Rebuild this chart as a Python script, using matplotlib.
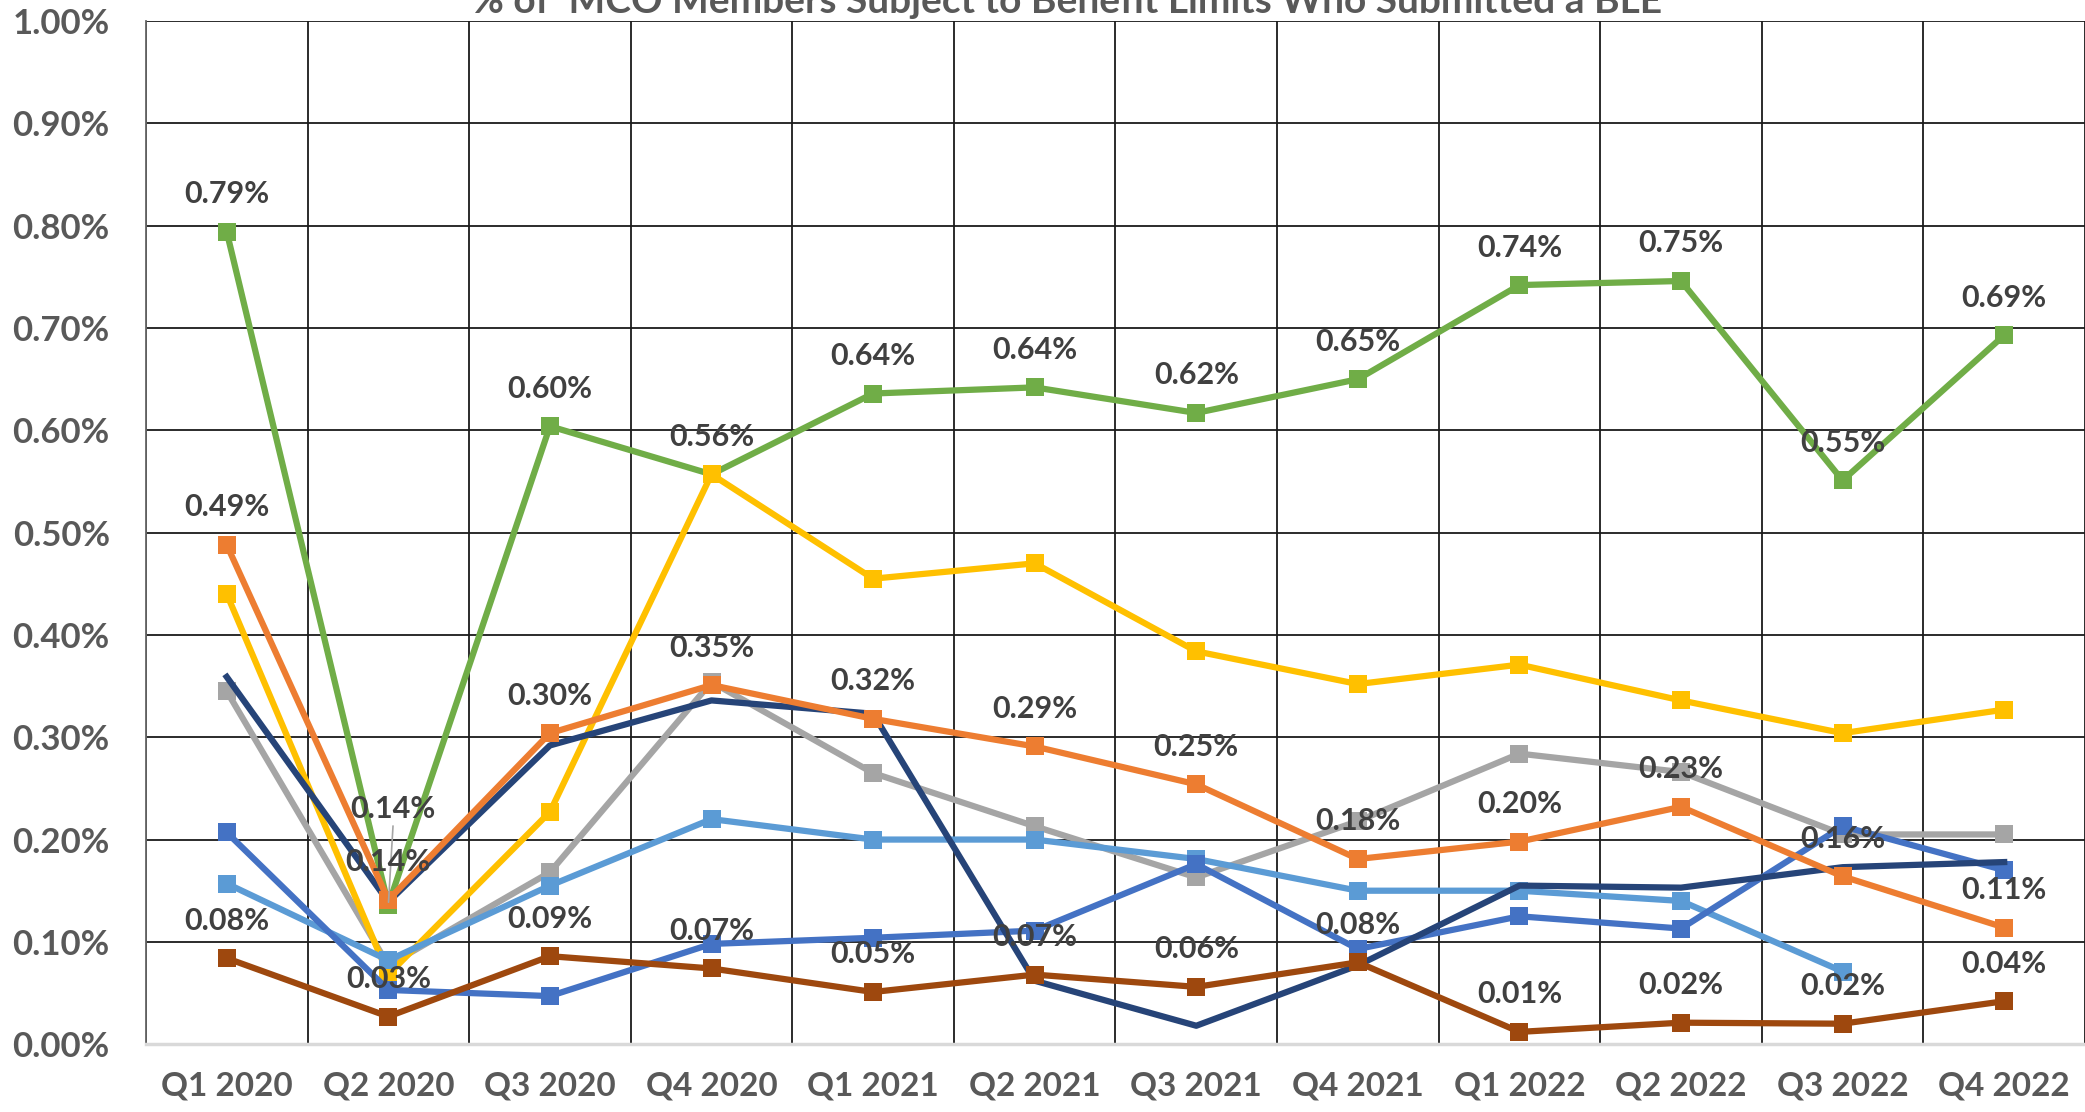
import numpy as np
import matplotlib.pyplot as plt
from matplotlib.ticker import FuncFormatter, MultipleLocator

plt.rcParams['font.family'] = ['Lato', 'DejaVu Sans']

quarters = ["Q1 2020", "Q2 2020", "Q3 2020", "Q4 2020", "Q1 2021", "Q2 2021",
            "Q3 2021", "Q4 2021", "Q1 2022", "Q2 2022", "Q3 2022", "Q4 2022"]

# values in percent
green = [0.794, 0.136, 0.604, 0.557, 0.636, 0.642, 0.617, 0.650, 0.742, 0.746, 0.551, 0.693]
yellow = [0.440, 0.068, 0.227, 0.557, 0.455, 0.470, 0.384, 0.352, 0.371, 0.336, 0.304, 0.327]
orange = [0.488, 0.141, 0.304, 0.351, 0.318, 0.291, 0.254, 0.181, 0.198, 0.232, 0.164, 0.114]
gray = [0.345, 0.077, 0.168, 0.354, 0.265, 0.213, 0.163, 0.218, 0.284, 0.266, 0.205, 0.205]
navy = [0.359, 0.139, 0.292, 0.336, 0.323, 0.062, 0.018, 0.077, 0.155, 0.153, 0.173, 0.178]
blue = [0.207, 0.053, 0.047, 0.098, 0.104, 0.111, 0.176, 0.093, 0.125, 0.113, 0.213, 0.170]
lightblue = [0.157, 0.082, 0.155, 0.220, 0.200, 0.200, 0.181, 0.150, 0.150, 0.140, 0.071, np.nan]
brown = [0.084, 0.027, 0.086, 0.074, 0.051, 0.068, 0.056, 0.080, 0.012, 0.021, 0.020, 0.042]

fig = plt.figure(figsize=(20.85, 11.12), dpi=100)
ax = fig.add_axes([0.070, 0.061, 0.930, 0.920])

x = np.arange(len(quarters))
lw = 4.5
ms = 13

series = [
    (green, '#70AD47', 's', 2),
    (gray, '#A5A5A5', 's', 3),
    (yellow, '#FFC000', 's', 4),
    (lightblue, '#5B9BD5', 's', 5),
    (blue, '#4472C4', 's', 6),
    (navy, '#264478', None, 7),
    (orange, '#ED7D31', 's', 8),
    (brown, '#9E480E', 's', 9),
]
for vals, col, mk, z in series:
    ax.plot(x, vals, color=col, lw=lw, marker=mk, markersize=ms,
            markeredgewidth=0, zorder=z, solid_joinstyle='round')

lab_kw = dict(textcoords='offset points', ha='center', va='center',
              fontsize=22, fontweight='bold', color='#404040', zorder=20)

for i, v in enumerate(green):
    if i == 1:
        # label pushed up with a leader line, as in the original
        ax.annotate(f"{v:.2f}%", (i, v), xytext=(3, 69), **lab_kw)
        ax.annotate("", (i, v), xytext=(i + 0.03, v + 0.08),
                    arrowprops=dict(arrowstyle='-', color='#A5A5A5', lw=1.2), zorder=19)
    else:
        ax.annotate(f"{v:.2f}%", (i, v), xytext=(0, 27), **lab_kw)
for i, v in enumerate(orange):
    ax.annotate(f"{v:.2f}%", (i, v), xytext=(0, 27), **lab_kw)
for i, v in enumerate(brown):
    ax.annotate(f"{v:.2f}%", (i, v), xytext=(0, 27), **lab_kw)

ax.set_xlim(-0.5, len(quarters) - 0.5)
ax.set_ylim(0, 1.0)
ax.yaxis.set_major_locator(MultipleLocator(0.1))
ax.yaxis.set_major_formatter(FuncFormatter(lambda v, p: f"{v:.2f}%"))
ax.set_xticks(x)
ax.set_xticklabels(quarters)
ax.set_xticks(np.arange(-0.5, len(quarters)), minor=True)

ax.grid(True, axis='y', which='major', color='#1a1a1a', lw=1.3, zorder=0)
ax.grid(True, axis='x', which='minor', color='#1a1a1a', lw=1.3, zorder=0)
ax.tick_params(axis='both', which='both', length=0)
ax.tick_params(axis='y', labelsize=25, pad=26, labelcolor='#595959')
ax.tick_params(axis='x', labelsize=24, pad=20, labelcolor='#595959')
for t in ax.get_xticklabels() + ax.get_yticklabels():
    t.set_fontweight('bold')

ax.spines['top'].set_visible(False)
ax.spines['right'].set_visible(False)
ax.spines['left'].set_color('#666666')
ax.spines['left'].set_linewidth(1.3)
ax.spines['bottom'].set_color('#D9D9D9')
ax.spines['bottom'].set_linewidth(2.5)

fig.text(0.512, 0.988, "% of  MCO Members Subject to Benefit Limits Who Submitted a BLE",
         ha='center', va='baseline', fontsize=28, fontweight='bold', color='#595959')

fig.savefig('out.png', dpi=100)
